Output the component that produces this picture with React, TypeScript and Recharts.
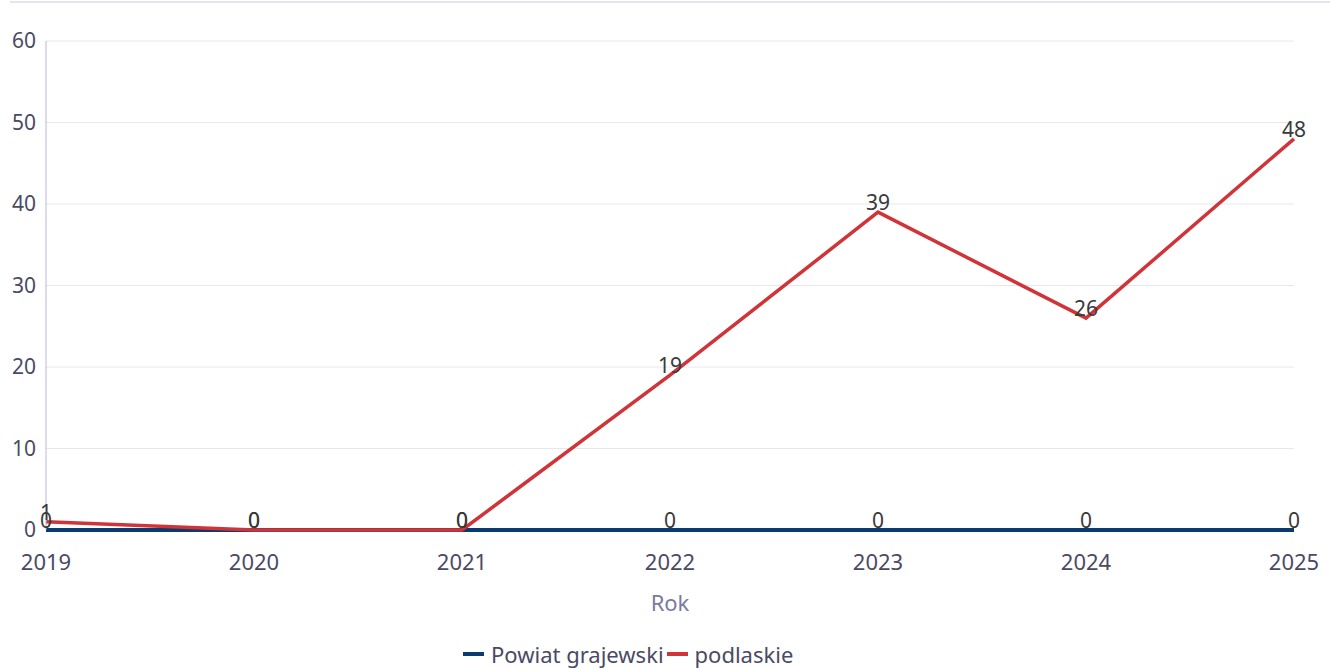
import React from 'react';
import { LineChart, Line, XAxis, YAxis, CartesianGrid, Legend, LabelList } from 'recharts';

const years = ['2019', '2020', '2021', '2022', '2023', '2024', '2025'];
const powiatGrajewski = [0, 0, 0, 0, 0, 0, 0];
const podlaskie = [1, 0, 0, 19, 39, 26, 48];
const yTicks = [0, 10, 20, 30, 40, 50, 60];

const seriesNames = ['Powiat grajewski', 'podlaskie'];
const seriesColors = ['#0b3a6e', '#d13438'];

const data = years.map((y, i) => ({ year: y, a: powiatGrajewski[i], b: podlaskie[i] }));

const FONT = '"Noto Sans", "Open Sans", sans-serif';

const LegendContent = () => (
  <div style={{ display: 'flex', alignItems: 'center', fontFamily: FONT, fontSize: 22, color: '#4a4a66', position: 'absolute', left: 463, top: 0, whiteSpace: 'nowrap' }}>
    {seriesNames.map((n, i) => (
      <div key={n} style={{ display: 'flex', alignItems: 'center' }}>
        <span style={{ display: 'inline-block', width: 21, height: 4, background: seriesColors[i], marginRight: 7 }} />
        <span style={{ marginRight: 3 }}>{n}</span>
      </div>
    ))}
  </div>
);

export default function App() {
  return (
    <div style={{ position: 'absolute', left: 0, top: 0, width: 1330, height: 669, background: '#fff' }}>
      <div style={{ position: 'absolute', left: 10, top: 1, width: 1320, height: 2, background: '#e4e4f2' }} />
      <LineChart width={1330} height={669} data={data} margin={{ top: 41, right: 36, bottom: 49, left: 10 }}>
        <CartesianGrid vertical={false} stroke="#e6e6f0" />
        <XAxis
          dataKey="year"
          tickLine={false}
          tickSize={0}
          tickMargin={24}
          axisLine={false}
          height={90}
          tick={{ fill: '#4a4a66', fontSize: 22, fontFamily: FONT }}
          label={{ value: 'Rok', position: 'insideBottom', offset: 9, fill: '#7a7aa0', fontSize: 22, fontFamily: FONT }}
          interval={0}
        />
        <YAxis
          domain={[0, 60]}
          ticks={yTicks}
          width={36}
          tickLine={false}
          tickSize={0}
          tickMargin={10}
          axisLine={{ stroke: '#b8b8d8' }}
          tick={{ fill: '#4a4a66', fontSize: 21, fontFamily: FONT }}
        />
        <Legend layout="horizontal" verticalAlign="middle" align="center" content={<LegendContent />} wrapperStyle={{ top: 639, left: 0, width: 1330, height: 30 }} />
        <Line type="linear" dataKey="a" name={seriesNames[0]} stroke={seriesColors[0]} strokeWidth={4} dot={false} activeDot={false} isAnimationActive={false}>
          <LabelList dataKey="a" position="top" offset={2} fill="#3a3a3a" fontSize={21} fontFamily={FONT} />
        </Line>
        <Line type="linear" dataKey="b" name={seriesNames[1]} stroke={seriesColors[1]} strokeWidth={3.5} dot={false} activeDot={false} isAnimationActive={false}>
          <LabelList dataKey="b" position="top" offset={2} fill="#3a3a3a" fontSize={21} fontFamily={FONT} />
        </Line>
      </LineChart>
    </div>
  );
}
